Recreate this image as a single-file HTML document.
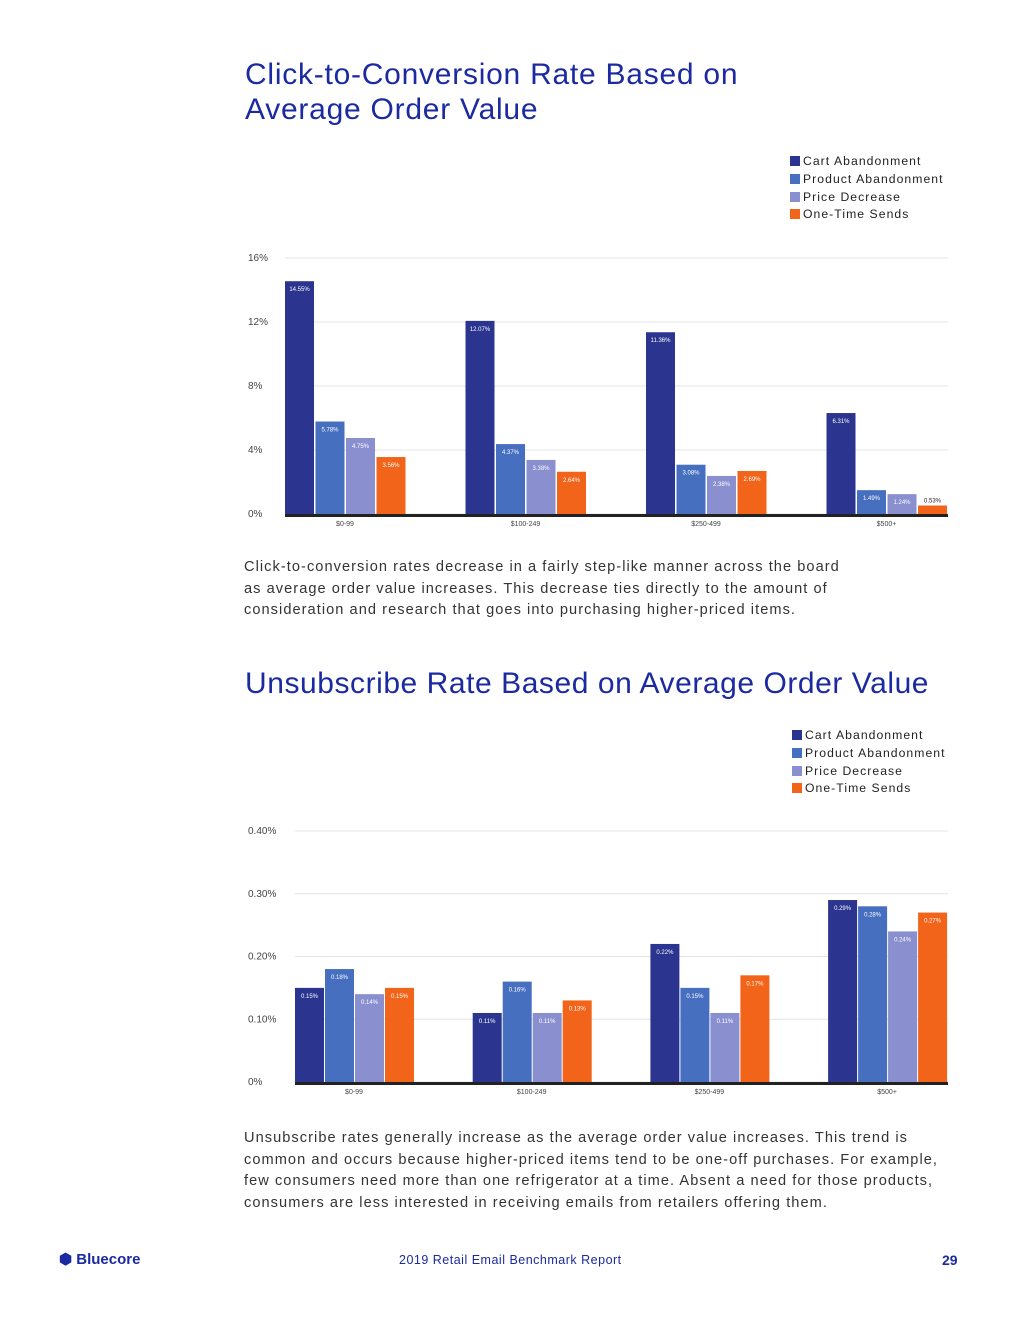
<!DOCTYPE html>
<html><head><meta charset="utf-8">
<style>
html,body{margin:0;padding:0;background:#fff;}
body{width:1020px;height:1320px;position:relative;overflow:hidden;font-family:"Liberation Sans",sans-serif;}
.t{position:absolute;left:245px;color:#1b2aa0;font-size:30px;line-height:35px;margin:0;font-weight:normal;letter-spacing:0.55px;white-space:nowrap;}
.p{position:absolute;left:244px;color:#333;font-size:14.6px;line-height:21.5px;letter-spacing:1.05px;margin:0;white-space:nowrap;}
.leg{position:absolute;font-size:12.2px;color:#222;letter-spacing:1.05px;line-height:17.8px;}
.leg div{white-space:nowrap;}
.leg span{display:inline-block;width:10px;height:10px;margin-right:3px;vertical-align:-1px;}
.f{position:absolute;top:1253px;color:#1b2aa0;font-size:12.5px;font-weight:bold;}
svg{position:absolute;left:0;top:0;}
</style></head><body>
<h1 class="t" style="top:57px;letter-spacing:0.75px">Click-to-Conversion Rate Based on<br>Average Order Value</h1>
<div class="leg" style="left:790px;top:153px">
<div><span style="background:#2b3590"></span>Cart Abandonment</div>
<div><span style="background:#466fc0"></span>Product Abandonment</div>
<div><span style="background:#8a8fd0"></span>Price Decrease</div>
<div><span style="background:#f26419"></span>One-Time Sends</div>
</div>
<p class="p" style="top:557px">Click-to-conversion rates decrease in a fairly step-like manner across the board<br>as average order value increases. This decrease ties directly to the amount of<br>consideration and research that goes into purchasing higher-priced items.</p>
<h1 class="t" style="top:666px">Unsubscribe Rate Based on Average Order Value</h1>
<div class="leg" style="left:792px;top:727px">
<div><span style="background:#2b3590"></span>Cart Abandonment</div>
<div><span style="background:#466fc0"></span>Product Abandonment</div>
<div><span style="background:#8a8fd0"></span>Price Decrease</div>
<div><span style="background:#f26419"></span>One-Time Sends</div>
</div>
<p class="p" style="top:1128px">Unsubscribe rates generally increase as the average order value increases. This trend is<br>common and occurs because higher-priced items tend to be one-off purchases. For example,<br>few consumers need more than one refrigerator at a time. Absent a need for those products,<br>consumers are less interested in receiving emails from retailers offering them.</p>
<div class="f" style="left:59px;font-size:15px;top:1250px">⬢ Bluecore</div>
<div class="f" style="left:399px;font-weight:normal;color:#1b2aa0;letter-spacing:0.5px">2019 Retail Email Benchmark Report</div>
<div class="f" style="left:942px;font-size:14px;top:1252px">29</div>
<svg id="svg" width="1020" height="1320"></svg>
<script>
const categories=["$0-99","$100-249","$250-499","$500+"];
const c1Cart=[14.55,12.07,11.36,6.31];
const c1Prod=[5.78,4.37,3.08,1.49];
const c1Price=[4.75,3.38,2.38,1.24];
const c1One=[3.56,2.64,2.69,0.53];
const c1Ticks=[0,4,8,12,16];
const c1TickLabels=["0%","4%","8%","12%","16%"];
const c2Cart=[0.15,0.11,0.22,0.29];
const c2Prod=[0.18,0.16,0.15,0.28];
const c2Price=[0.14,0.11,0.11,0.24];
const c2One=[0.15,0.13,0.17,0.27];
const c2Ticks=[0,0.1,0.2,0.3,0.4];
const c2TickLabels=["0%","0.10%","0.20%","0.30%","0.40%"];
const colors=["#2b3590","#466fc0","#8a8fd0","#f26419"];
const NS="http://www.w3.org/2000/svg";
const svg=document.getElementById('svg');
function mk(t,a,txt){const e=document.createElementNS(NS,t);for(const k in a)e.setAttribute(k,a[k]);if(txt!=null)e.textContent=txt;svg.appendChild(e);return e;}
function chart(cfg){
  const y=v=>cfg.y0-(v-cfg.min)/(cfg.max-cfg.min)*(cfg.y0-cfg.y1);
  const x=(g,s)=>cfg.x0+g*cfg.gstep+s*cfg.bstep;
  cfg.ticks.forEach((t,i)=>{
    const l=mk('line',{x1:cfg.x0,x2:948,y1:y(t),y2:y(t),stroke:'#e4e4e4','stroke-width':1});
    
    
    const tx=mk('text',{x:248,y:y(t)+3,'font-size':10,fill:'#444','font-family':'Liberation Sans'},cfg.tickLabels[i]);
    
    
  });
  cfg.series.forEach((ser,s)=>{
    ser.forEach((v,g)=>{
      const r=mk('rect',{x:x(g,s),y:y(v),width:cfg.bw,height:y(0)-y(v),fill:colors[s]});
      
      
      const small=(y(0)-y(v))<14;
      const lb=mk('text',{x:x(g,s)+cfg.bw/2,y:small?y(v)-3:y(v)+cfg.lo,'font-size':6,fill:small?'#222':'#fff','text-anchor':'middle','font-family':'Liberation Sans'},v+'%');
      
      
    });
  });
  const ax=mk('rect',{x:cfg.x0,y:y(0),width:948-cfg.x0,height:3,fill:'#222'});
  
  
  categories.forEach((c,g)=>{
    const t=mk('text',{x:x(g,0)+cfg.bstep*2-1,y:y(0)+12,'font-size':7,fill:'#444','text-anchor':'middle','font-family':'Liberation Sans'},c);
    
    
  });
}
chart({id:'c1',min:0,max:16,y0:514,y1:258,x0:285,gstep:180.5,bstep:30.5,bw:29,lo:10,ticks:c1Ticks,tickLabels:c1TickLabels,series:[c1Cart,c1Prod,c1Price,c1One]});
chart({id:'c2',min:0,max:0.4,y0:1082,y1:831,x0:295,gstep:177.7,bstep:30,bw:29,lo:10,ticks:c2Ticks,tickLabels:c2TickLabels,series:[c2Cart,c2Prod,c2Price,c2One]});
</script>
</body></html>
